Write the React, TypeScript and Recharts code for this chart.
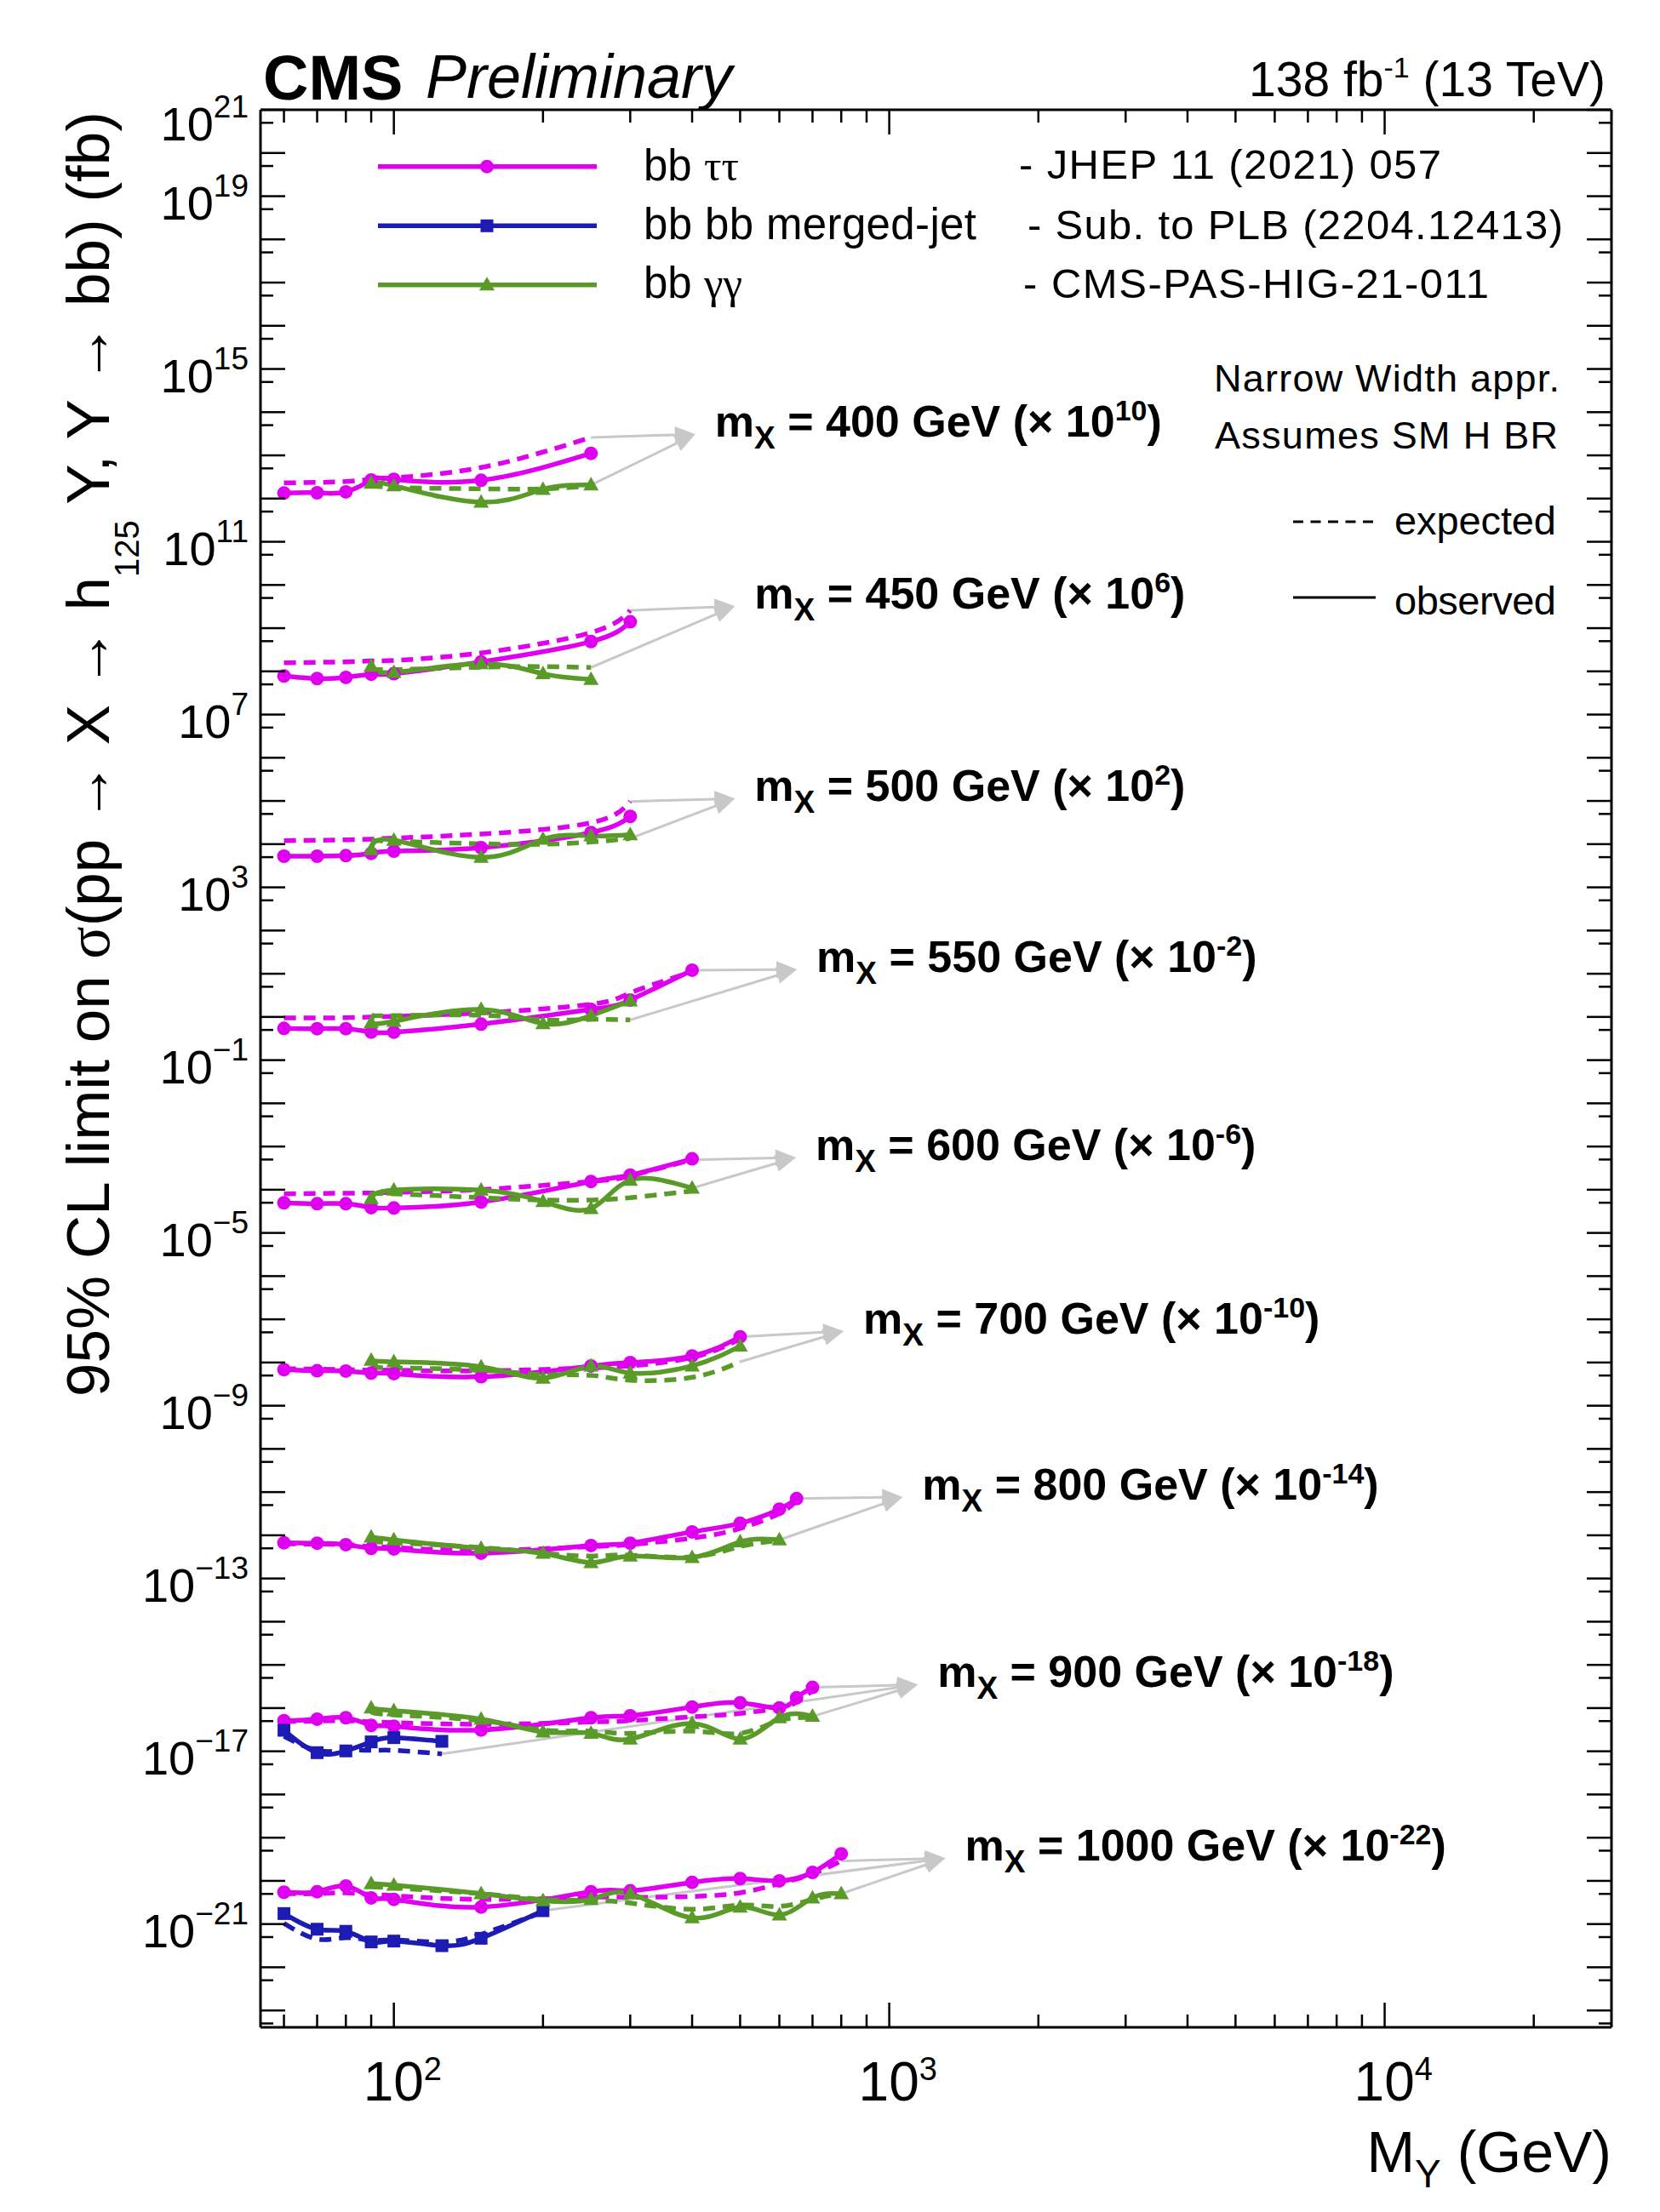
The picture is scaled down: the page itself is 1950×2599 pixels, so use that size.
import React from 'react';
import { LineChart, Line, XAxis, YAxis, ReferenceLine, ReferenceDot } from 'recharts';

// ---------------- data (limits in fb, before the per-group scale factor) ----------------
const MX_LIST = [400, 450, 500, 550, 600, 700, 800, 900, 1000];
const SCALE_EXP = [10, 6, 2, -2, -6, -10, -14, -18, -22];

const MY_TT_400 = [60, 70, 80, 90, 100, 150, 250];
const TT_OBS_400 = [134, 136, 143, 269, 278, 265, 1114];
const TT_EXP_400 = [231, 237, 248, 278, 305, 524, 2606];
const MY_GG_400 = [90, 100, 150, 200, 250];
const GG_OBS_400 = [228, 198, 82.6, 164, 206];
const GG_EXP_400 = [211, 181, 168, 168, 198];

const MY_TT_450 = [60, 70, 80, 90, 100, 150, 250, 300];
const TT_OBS_450 = [78.2, 68.2, 72.4, 85.7, 88.1, 166, 488, 1406];
const TT_EXP_450 = [157, 162, 166, 174, 179, 267, 792, 2582];
const MY_GG_450 = [90, 100, 150, 200, 250];
const GG_OBS_450 = [132, 95, 150, 88.1, 65.2];
const GG_EXP_450 = [119, 110, 125, 129, 123];

const MY_TT_500 = [60, 70, 80, 90, 100, 150, 250, 300];
const TT_OBS_500 = [52.6, 52.6, 54.2, 61.1, 69.0, 82.8, 185, 439];
const TT_EXP_500 = [120, 123, 126, 130, 138, 171, 313, 975];
const MY_GG_500 = [90, 100, 150, 200, 250, 300];
const GG_OBS_500 = [74.6, 123, 49.5, 130, 156, 166];
const GG_EXP_500 = [123, 117, 102, 99.3, 112, 135];

const MY_TT_550 = [60, 70, 80, 90, 100, 150, 250, 300, 400];
const TT_OBS_550 = [54.2, 53.3, 53.3, 44.5, 44.5, 68.1, 149, 246, 1208];
const TT_EXP_550 = [94.8, 94.8, 96.2, 99.3, 103, 124, 196, 359, 1117];
const MY_GG_550 = [90, 100, 150, 200, 250, 300];
const GG_OBS_550 = [73.3, 79.1, 149, 70.0, 107, 235];
const GG_EXP_550 = [110, 107, 109, 85.3, 87.7, 85.3];

const MY_TT_600 = [60, 70, 80, 90, 100, 150, 250, 300, 400];
const TT_OBS_600 = [49.7, 47.4, 47.4, 38.4, 37.8, 52.0, 155, 218, 518];
const TT_EXP_600 = [80.4, 81.8, 83.0, 84.1, 86.9, 101, 155, 209, 494];
const MY_GG_600 = [90, 100, 150, 200, 250, 300, 400];
const GG_OBS_600 = [62.4, 98.2, 98.2, 53.5, 36.6, 166, 109];
const GG_EXP_600 = [78.2, 80.4, 65.2, 57.7, 57.7, 65.2, 93.8];

const MY_TT_700 = [60, 70, 80, 90, 100, 150, 250, 300, 400, 500];
const TT_OBS_700 = [68.4, 64.3, 63.4, 57.0, 55.3, 46.8, 83.2, 99.8, 142, 394];
const TT_EXP_700 = [71.6, 70.5, 68.4, 66.2, 66.2, 64.3, 75.0, 83.2, 131, 350];
const MY_GG_700 = [90, 100, 150, 200, 250, 300, 400, 500];
const GG_OBS_700 = [113, 104, 79.4, 43.4, 83.2, 57.0, 83.2, 240];
const GG_EXP_700 = [77.1, 75.0, 66.2, 52.8, 50.5, 39.0, 45.4, 104];

const MY_TT_800 = [60, 70, 80, 90, 100, 150, 250, 300, 400, 500, 600, 650];
const TT_OBS_800 = [67.3, 65.6, 60.7, 49.9, 48.4, 38.5, 57.9, 65.6, 120, 189, 403, 705];
const TT_EXP_800 = [63.5, 62.5, 60.7, 54.7, 52.2, 44.9, 54.7, 60.7, 86.1, 144, 321, 634];
const MY_GG_800 = [90, 100, 150, 200, 250, 300, 400, 500, 600];
const GG_OBS_800 = [91.4, 78.5, 49.9, 38.5, 23.4, 33.2, 30.7, 70.5, 78.5];
const GG_EXP_800 = [70.5, 67.3, 52.2, 38.5, 33.2, 34.7, 31.7, 54.7, 76.2];

const MY_TT_900 = [60, 70, 80, 90, 100, 150, 250, 300, 400, 500, 600, 650, 700];
const TT_OBS_900 = [51.3, 55.5, 59.8, 39.8, 38.0, 31.1, 59.8, 66.4, 106, 133, 101, 173, 302];
const TT_EXP_900 = [49.0, 49.9, 51.3, 47.6, 46.2, 42.2, 47.6, 51.3, 62.7, 75.2, 101, 137, 251];
const MY_BB_900 = [60, 70, 80, 90, 100, 125];
const BB_OBS_900 = [30.6, 9.29, 10.2, 16.5, 20.7, 17.0];
const BB_EXP_900 = [22.3, 10.5, 10.5, 10.5, 10.5, 8.73];
const MY_GG_900 = [90, 100, 150, 200, 250, 300, 400, 500, 600, 700];
const GG_OBS_900 = [101, 87.3, 55.5, 28.1, 26.0, 19.2, 44.2, 19.2, 59.8, 64.4];
const GG_EXP_900 = [80.9, 69.7, 51.3, 31.1, 29.3, 26.0, 29.3, 26.0, 51.3, 59.8];

const MY_TT_1000 = [60, 70, 80, 90, 100, 150, 250, 300, 400, 500, 600, 700, 800];
const TT_OBS_1000 = [54.7, 56.2, 76.2, 40.4, 37.3, 24.8, 56.2, 58.9, 92.5, 113, 100, 157, 422];
const TT_EXP_1000 = [50.6, 50.6, 53.0, 48.3, 45.4, 37.3, 41.6, 41.6, 43.6, 53.0, 86.1, 146, 288];
const MY_BB_1000 = [60, 70, 80, 90, 100, 125, 150, 200];
const BB_OBS_1000 = [17.5, 7.6, 6.8, 3.86, 4.04, 3.16, 4.69, 20.4];
const BB_EXP_1000 = [10.4, 4.5, 4.84, 4.17, 4.3, 3.85, 5.79, 18.9];
const MY_GG_1000 = [90, 100, 150, 200, 250, 300, 400, 500, 600, 700, 800];
const GG_OBS_1000 = [86.1, 79.6, 50.6, 34.7, 37.3, 50.6, 14.0, 24.8, 16.3, 40.4, 50.6];
const GG_EXP_1000 = [74.0, 68.5, 50.6, 37.3, 35.6, 30.7, 22.0, 27.7, 25.6, 37.3, 50.6];

// annotation anchors (arrow tip in data coordinates: M_Y, log10 of plotted value)
const TIP_X = [406, 488, 488, 651, 648, 809, 1064, 1142, 1298];
const TIP_LOGY = [13.49, 9.51, 5.055, 1.1, -3.254, -7.273, -11.115, -15.456, -19.475];
const ARROW_FROM = [
  ['ttExp', 'ggObs'], ['ttExp', 'ggExp'], ['ttExp', 'ggExp'], ['ttObs', 'ggExp'], ['ttExp', 'ggObs'],
  ['ttObs', 'ggExp'], ['ttObs', 'ggObs'], ['ttObs', 'ggObs', 'bbExp'], ['ttExp', 'ggObs', 'bbObs'],
];

// axis ticks
const X_TICKS = [60, 70, 80, 90, 100, 200, 300, 400, 500, 600, 700, 800, 900, 1000, 2000, 3000, 4000, 5000, 6000, 7000, 8000, 9000, 10000, 20000];
const Y_LABEL_EXPS = [21, 19, 15, 11, 7, 3, -1, -5, -9, -13, -17, -21];
const Y_DECADE_MIN = -23;
const Y_DECADE_MAX = 21;
const Y_TICKS: number[] = [];
for (let n = Y_DECADE_MIN; n <= Y_DECADE_MAX; n++) {
  Y_TICKS.push(5 * Math.pow(10, n - 1));
  Y_TICKS.push(Math.pow(10, n));
}
const X_DOMAIN = [53.8, 28700];
const Y_DOMAIN = [Math.pow(10, -23.39), 1e21];

// ---------------- styling ----------------
const FONT = '"Liberation Sans", Arial, Helvetica, sans-serif';
const SERIF = '"Liberation Serif", "DejaVu Serif", serif';
const MAGENTA = '#E000F0';
const BLUE = '#1C1CB4';
const GREEN = '#5A9A28';
const GRAY = '#C8C8C8';
const LW = 5.5;
const DASH = '14 9';

const GROUP_SRC = [
  { x: MY_TT_400, o: TT_OBS_400, e: TT_EXP_400, gx: MY_GG_400, go: GG_OBS_400, ge: GG_EXP_400 },
  { x: MY_TT_450, o: TT_OBS_450, e: TT_EXP_450, gx: MY_GG_450, go: GG_OBS_450, ge: GG_EXP_450 },
  { x: MY_TT_500, o: TT_OBS_500, e: TT_EXP_500, gx: MY_GG_500, go: GG_OBS_500, ge: GG_EXP_500 },
  { x: MY_TT_550, o: TT_OBS_550, e: TT_EXP_550, gx: MY_GG_550, go: GG_OBS_550, ge: GG_EXP_550 },
  { x: MY_TT_600, o: TT_OBS_600, e: TT_EXP_600, gx: MY_GG_600, go: GG_OBS_600, ge: GG_EXP_600 },
  { x: MY_TT_700, o: TT_OBS_700, e: TT_EXP_700, gx: MY_GG_700, go: GG_OBS_700, ge: GG_EXP_700 },
  { x: MY_TT_800, o: TT_OBS_800, e: TT_EXP_800, gx: MY_GG_800, go: GG_OBS_800, ge: GG_EXP_800 },
  { x: MY_TT_900, o: TT_OBS_900, e: TT_EXP_900, gx: MY_GG_900, go: GG_OBS_900, ge: GG_EXP_900, bx: MY_BB_900, bo: BB_OBS_900, be: BB_EXP_900 },
  { x: MY_TT_1000, o: TT_OBS_1000, e: TT_EXP_1000, gx: MY_GG_1000, go: GG_OBS_1000, ge: GG_EXP_1000, bx: MY_BB_1000, bo: BB_OBS_1000, be: BB_EXP_1000 },
];

const toPts = (xs: number[], vs: number[], e: number) => xs.map((m, i) => ({ m, v: vs[i] * Math.pow(10, e) }));

const GROUPS = GROUP_SRC.map((g: any, i) => {
  const e = SCALE_EXP[i];
  const s: any = {
    ttObs: toPts(g.x, g.o, e),
    ttExp: toPts(g.x, g.e, e),
    ggObs: toPts(g.gx, g.go, e),
    ggExp: toPts(g.gx, g.ge, e),
  };
  if (g.bx) {
    s.bbObs = toPts(g.bx, g.bo, e);
    s.bbExp = toPts(g.bx, g.be, e);
  }
  return { mx: MX_LIST[i], e, s };
});

// ---------------- shapes ----------------
const circleDot = (color: string) => (p: any) => (
  <circle key={`c${p.index}`} cx={p.cx} cy={p.cy} r={8} fill={color} stroke="none" />
);
const squareDot = (color: string) => (p: any) => (
  <rect key={`s${p.index}`} x={p.cx - 7.5} y={p.cy - 7.5} width={15} height={15} fill={color} stroke="none" />
);
const triDot = (color: string) => (p: any) => (
  <polygon key={`t${p.index}`} points={`${p.cx},${p.cy - 9.5} ${p.cx - 9},${p.cy + 6.5} ${p.cx + 9},${p.cy + 6.5}`} fill={color} stroke="none" />
);

const ArrowShape = (props: any) => {
  const { x1, y1, x2, y2 } = props;
  const dx = x2 - x1;
  const dy = y2 - y1;
  const L = Math.hypot(dx, dy) || 1;
  const ux = dx / L;
  const uy = dy / L;
  const hl = 24;
  const hw = 10;
  const bx = x2 - ux * hl;
  const by = y2 - uy * hl;
  const pts = `${x2},${y2} ${bx - uy * hw},${by + ux * hw} ${bx + uy * hw},${by - ux * hw}`;
  return (
    <g>
      <line x1={x1} y1={y1} x2={bx} y2={by} stroke={GRAY} strokeWidth={3} />
      <polygon points={pts} fill={GRAY} />
    </g>
  );
};

const makeLabelShape = (mx: number, e: number) => (props: any) => {
  const { cx, cy } = props;
  return (
    <text x={cx + 23} y={cy + 3} fontFamily={FONT} fontWeight="bold" fontSize={52} fill="#000">
      m<tspan fontSize={37} dy={14}>X</tspan>
      <tspan dy={-14}>{` = ${mx} GeV (× 10`}</tspan>
      <tspan fontSize={34} dy={-19}>{`${e}`}</tspan>
      <tspan dy={19}>)</tspan>
    </text>
  );
};

const XTick = (props: any) => {
  const { x, y, payload, side } = props;
  const lg = Math.log10(payload.value);
  const n = Math.round(lg);
  const major = Math.abs(lg - n) < 1e-6;
  const len = major ? 29 : 15;
  const dir = side === 'bottom' ? -1 : 1;
  return (
    <g>
      <line x1={x} y1={y} x2={x} y2={y + dir * len} stroke="#000" strokeWidth={2.5} />
      {side === 'bottom' && major && (
        <text x={x - 36} y={y + 86} fontFamily={FONT} fontSize={64} fill="#000">
          10<tspan fontSize={38} dy={-24}>{`${n}`}</tspan>
        </text>
      )}
    </g>
  );
};

const YTick = (props: any) => {
  const { x, y, payload, side } = props;
  const lg = Math.log10(payload.value);
  const n = Math.round(lg);
  const major = Math.abs(lg - n) < 1e-6;
  const len = major ? 29 : 15;
  const dir = side === 'left' ? 1 : -1;
  return (
    <g>
      <line x1={x} y1={y} x2={x + dir * len} y2={y} stroke="#000" strokeWidth={2.5} />
      {side === 'left' && major && Y_LABEL_EXPS.includes(n) && (
        <text x={x - 14} y={y + 27 + (n === 21 ? 9 : 0)} textAnchor="end" fontFamily={FONT} fontSize={56} fill="#000">
          10<tspan fontSize={37} dy={-27}>{n < 0 ? `\u2212${-n}` : `${n}`}</tspan>
        </text>
      )}
    </g>
  );
};

const axisLine = { stroke: '#000', strokeWidth: 3 };

export default function App() {
  const lines: any[] = [];
  const refs: any[] = [];
  GROUPS.forEach((g, gi) => {
    const s = g.s;
    const common = { dataKey: 'v', xAxisId: 'b', yAxisId: 'l', type: 'natural' as const, isAnimationActive: false, activeDot: false, strokeWidth: LW };
    lines.push(<Line key={`tte${gi}`} {...common} data={s.ttExp} stroke={MAGENTA} strokeDasharray={DASH} dot={false} />);
    lines.push(<Line key={`tto${gi}`} {...common} data={s.ttObs} stroke={MAGENTA} dot={circleDot(MAGENTA)} />);
    if (s.bbExp) {
      lines.push(<Line key={`bbe${gi}`} {...common} data={s.bbExp} stroke={BLUE} strokeDasharray={DASH} dot={false} />);
      lines.push(<Line key={`bbo${gi}`} {...common} data={s.bbObs} stroke={BLUE} dot={squareDot(BLUE)} />);
    }
    lines.push(<Line key={`gge${gi}`} {...common} data={s.ggExp} stroke={GREEN} strokeDasharray={DASH} dot={false} />);
    lines.push(<Line key={`ggo${gi}`} {...common} data={s.ggObs} stroke={GREEN} dot={triDot(GREEN)} />);

    const tipX = TIP_X[gi];
    const tipY = Math.pow(10, TIP_LOGY[gi]);
    ARROW_FROM[gi].forEach((k, ai) => {
      const arr = s[k];
      const last = arr[arr.length - 1];
      refs.push(
        <ReferenceLine
          key={`ar${gi}_${ai}`}
          xAxisId="b"
          yAxisId="l"
          segment={[{ x: last.m, y: last.v }, { x: tipX, y: tipY }]}
          shape={ArrowShape}
          ifOverflow="visible"
        />
      );
    });
    refs.push(
      <ReferenceDot
        key={`lb${gi}`}
        xAxisId="b"
        yAxisId="l"
        x={tipX}
        y={tipY}
        r={0}
        ifOverflow="visible"
        shape={makeLabelShape(g.mx, g.e)}
      />
    );
  });

  return (
    <div style={{ position: 'absolute', left: 0, top: 0, width: 1950, height: 2599, background: '#fff' }}>
      <LineChart width={1950} height={2599} margin={{ top: 128, right: 56, bottom: 216, left: 305 }}>
        <XAxis xAxisId="b" orientation="bottom" type="number" scale="log" dataKey="m" domain={X_DOMAIN} allowDataOverflow ticks={X_TICKS} interval={0} height={1} tickSize={0} tickMargin={0} tickLine={false} axisLine={axisLine} tick={<XTick side="bottom" />} />
        <XAxis xAxisId="t" orientation="top" type="number" scale="log" dataKey="m" domain={X_DOMAIN} allowDataOverflow ticks={X_TICKS} interval={0} height={1} tickSize={0} tickMargin={0} tickLine={false} axisLine={axisLine} tick={<XTick side="top" />} />
        <YAxis yAxisId="l" orientation="left" type="number" scale="log" domain={Y_DOMAIN} allowDataOverflow ticks={Y_TICKS} interval={0} width={1} tickSize={0} tickMargin={0} tickLine={false} axisLine={axisLine} tick={<YTick side="left" />} />
        <YAxis yAxisId="r" orientation="right" type="number" scale="log" domain={Y_DOMAIN} allowDataOverflow ticks={Y_TICKS} interval={0} width={1} tickSize={0} tickMargin={0} tickLine={false} axisLine={axisLine} tick={<YTick side="right" />} />
        {refs}
        {lines}
      </LineChart>

      <svg width={1950} height={2599} style={{ position: 'absolute', left: 0, top: 0, pointerEvents: 'none' }}>
        {/* header */}
        <text x={309} y={117} fontFamily={FONT} fontWeight="bold" fontSize={74} fill="#000">CMS</text>
        <text x={500} y={115} fontFamily={FONT} fontStyle="italic" fontSize={72} fill="#000">Preliminary</text>
        <text x={1886} y={113} textAnchor="end" fontFamily={FONT} fontSize={57} fill="#000">
          138 fb<tspan fontSize={34} dy={-22}>-1</tspan>
          <tspan dy={22}> (13 TeV)</tspan>
        </text>

        {/* legend */}
        <line x1={444} y1={195.7} x2={701} y2={195.7} stroke={MAGENTA} strokeWidth={5.5} />
        <circle cx={572} cy={195.7} r={8} fill={MAGENTA} />
        <line x1={444} y1={265.3} x2={701} y2={265.3} stroke={BLUE} strokeWidth={5.5} />
        <rect x={564.5} y={257.8} width={15} height={15} fill={BLUE} />
        <line x1={444} y1={334.7} x2={701} y2={334.7} stroke={GREEN} strokeWidth={5.5} />
        <polygon points={`572,325.2 563,341.2 581,341.2`} fill={GREEN} />

        <text x={756} y={211.5} fontFamily={FONT} fontSize={51} fill="#000">
          bb <tspan fontFamily={SERIF}>ττ</tspan>
        </text>
        <text x={756} y={280.7} fontFamily={FONT} fontSize={51} fill="#000" textLength={391} lengthAdjust="spacing">bb bb merged-jet</text>
        <text x={756} y={350} fontFamily={FONT} fontSize={51} fill="#000">
          bb <tspan fontFamily={SERIF}>γγ</tspan>
        </text>

        <text x={1197} y={210} fontFamily={FONT} fontSize={49} fill="#000" textLength={496} lengthAdjust="spacing">- JHEP 11 (2021) 057</text>
        <text x={1207} y={281} fontFamily={FONT} fontSize={49} fill="#000" textLength={629} lengthAdjust="spacing">- Sub. to PLB (2204.12413)</text>
        <text x={1202} y={350} fontFamily={FONT} fontSize={49} fill="#000" textLength={547} lengthAdjust="spacing">- CMS-PAS-HIG-21-011</text>

        <text x={1426} y={460} fontFamily={FONT} fontSize={45} fill="#000" textLength={406} lengthAdjust="spacing">Narrow Width appr.</text>
        <text x={1427} y={527} fontFamily={FONT} fontSize={45} fill="#000" textLength={403} lengthAdjust="spacing">Assumes SM H BR</text>

        <line x1={1519} y1={613} x2={1615} y2={613} stroke="#000" strokeWidth={3} strokeDasharray="12 8.5" />
        <text x={1638} y={628} fontFamily={FONT} fontSize={47} fill="#000" textLength={190} lengthAdjust="spacing">expected</text>
        <line x1={1519} y1={702} x2={1616} y2={702} stroke="#000" strokeWidth={3} />
        <text x={1638} y={722} fontFamily={FONT} fontSize={47} fill="#000" textLength={190} lengthAdjust="spacing">observed</text>

        {/* axis titles */}
        <text transform="translate(128, 886) rotate(-90)" textAnchor="middle" fontFamily={FONT} fontSize={71} fill="#000">
          95% CL limit on <tspan fontFamily={SERIF}>σ</tspan>(pp → X → h<tspan fontSize={40} dy={35}>125</tspan>
          <tspan dy={-35}> Y, Y → bb) (fb)</tspan>
        </text>
        <text x={1893} y={2552} textAnchor="end" fontFamily={FONT} fontSize={68} fill="#000">
          M<tspan fontSize={46} dy={18}>Y</tspan>
          <tspan dy={-18}> (GeV)</tspan>
        </text>
      </svg>
    </div>
  );
}
